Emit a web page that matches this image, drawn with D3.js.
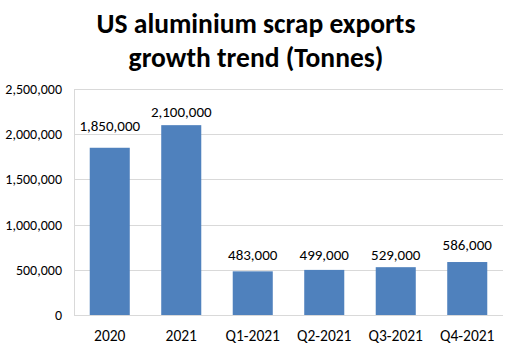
<!DOCTYPE html>
<html>
<head>
<meta charset="utf-8">
<script src="https://cdn.jsdelivr.net/npm/d3@7"></script>
<style>
  body { margin: 0; background: #fff; }
  svg { display: block; }
  text { font-family: Carlito, "Open Sans", "Liberation Sans", sans-serif; fill: #000; }
</style>
</head>
<body>
<svg id="chart" width="512" height="350"></svg>
<script>
// Exports by period, in tonnes
const categories = ["2020", "2021", "Q1-2021", "Q2-2021", "Q3-2021", "Q4-2021"];
const exportsTonnes = [1850000, 2100000, 483000, 499000, 529000, 586000];
const yTicks = [0, 500000, 1000000, 1500000, 2000000, 2500000];
const titleLines = ["US aluminium scrap exports", "growth trend (Tonnes)"];

const svg = d3.select("#chart");
const margin = { left: 74, right: 9, top: 89, bottom: 35 };
const W = 512, H = 350;
// Gap in px between each bar top and its value label baseline (labels nudged clear of gridlines)
const labelGap = [17, 8, 11, 10, 7, 12];

const x = d3.scaleBand()
  .domain(categories)
  .range([margin.left, W - margin.right])
  .paddingInner(0.44)
  .paddingOuter(0.22);

const y = d3.scaleLinear()
  .domain([0, 2500000])
  .range([H - margin.bottom, margin.top]);

const fmt = d3.format(",");

// Horizontal gridlines
svg.append("g")
  .selectAll("line")
  .data(yTicks)
  .join("line")
  .attr("x1", margin.left)
  .attr("x2", W - margin.right)
  .attr("y1", d => Math.round(y(d)) + 0.5)
  .attr("y2", d => Math.round(y(d)) + 0.5)
  .attr("stroke", "#d9d9d9")
  .attr("stroke-width", 1);

// Left plot border
svg.append("line")
  .attr("x1", margin.left + 0.5).attr("x2", margin.left + 0.5)
  .attr("y1", y(2500000)).attr("y2", y(0))
  .attr("stroke", "#d9d9d9");

// Y axis labels
const yAxis = d3.axisLeft(y).tickValues(yTicks).tickFormat(fmt).tickSize(0).tickPadding(12);
const gy = svg.append("g")
  .attr("transform", `translate(${margin.left},0)`)
  .call(yAxis);
gy.select(".domain").remove();
gy.selectAll("text")
  .style("font-size", "14px")
  .style("font-family", 'Carlito, "Open Sans", "Liberation Sans", sans-serif')
  .attr("fill", "#000");

// X axis labels
const xAxis = d3.axisBottom(x).tickSize(0).tickPadding(15);
const gx = svg.append("g")
  .attr("transform", `translate(0,${y(0)})`)
  .call(xAxis);
gx.select(".domain").remove();
gx.selectAll("text")
  .style("font-size", "15.5px")
  .style("font-family", 'Carlito, "Open Sans", "Liberation Sans", sans-serif')
  .attr("fill", "#000");

// Bars
svg.append("g")
  .selectAll("rect")
  .data(categories)
  .join("rect")
  .attr("x", d => x(d))
  .attr("width", x.bandwidth())
  .attr("y", (d, i) => y(exportsTonnes[i]))
  .attr("height", (d, i) => y(0) - y(exportsTonnes[i]))
  .attr("fill", "#4f81bd");

// Value labels above bars
svg.append("g")
  .selectAll("text")
  .data(categories)
  .join("text")
  .attr("x", d => x(d) + x.bandwidth() / 2)
  .attr("y", (d, i) => y(exportsTonnes[i]) - labelGap[i])
  .attr("text-anchor", "middle")
  .style("font-size", "15px")
  .text((d, i) => fmt(exportsTonnes[i]));

// Title, fitted to its line width
const title = svg.append("g");
const t1 = title.append("text")
  .attr("x", 256).attr("y", 33)
  .attr("text-anchor", "middle")
  .style("font-size", "26px").style("font-weight", "bold")
  .text(titleLines[0]);
const t2 = title.append("text")
  .attr("x", 256).attr("y", 67)
  .attr("text-anchor", "middle")
  .style("font-size", "26px").style("font-weight", "bold")
  .text(titleLines[1]);
const w1 = t1.node().getComputedTextLength();
const size = 26 * 319 / w1;
t1.style("font-size", size + "px");
t2.style("font-size", size + "px");
</script>
</body>
</html>
